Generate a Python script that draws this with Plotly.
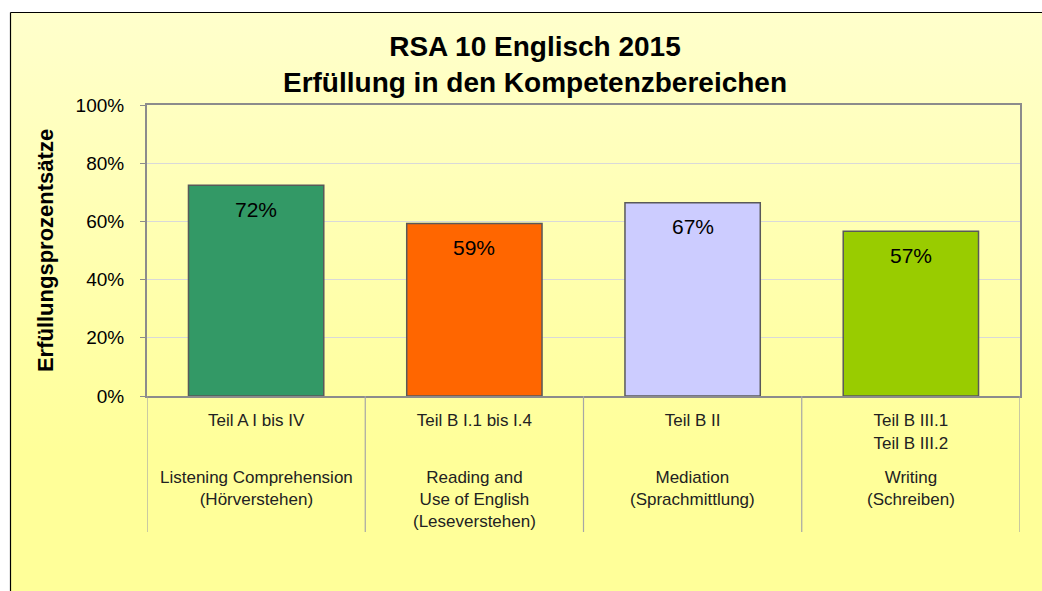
import plotly.graph_objects as go

parts = [
    "Teil A I bis IV",
    "Teil B I.1 bis I.4",
    "Teil B II",
    "Teil B III.1<br>Teil B III.2",
]
skills = [
    "Listening Comprehension<br>(Hörverstehen)",
    "Reading and<br>Use of English<br>(Leseverstehen)",
    "Mediation<br>(Sprachmittlung)",
    "Writing<br>(Schreiben)",
]
values = [72.4, 59.3, 66.4, 56.6]
labels = ["72%", "59%", "67%", "57%"]
colors = ["#339966", "#FF6600", "#CCCCFF", "#99CC00"]
yticks = [0, 20, 40, 60, 80, 100]
ytick_labels = ["0%", "20%", "40%", "60%", "80%", "100%"]

x_idx = list(range(len(parts)))
FONT = "Liberation Sans, Arial, sans-serif"

fig = go.Figure()
fig.add_trace(go.Bar(
    x=x_idx, y=values, width=0.62,
    marker=dict(color=colors, line=dict(color="#595959", width=1.5)),
    hoverinfo="skip",
))

# plot-area geometry in px (for paper-coordinate conversions)
L, R, T, B = 147, 22, 105, 195
W, H = 1042 - L - R, 591 - T - B
def px_x(p): return (p - L) / W
def px_y(p): return (591 - B - p) / H

svg = ("data:image/svg+xml;utf8,<svg xmlns='http://www.w3.org/2000/svg' width='100' height='100' "
       "preserveAspectRatio='none'><defs><linearGradient id='g' x1='0' y1='0' x2='0' y2='1'>"
       "<stop offset='0' stop-color='%23FFFFCC'/><stop offset='0.75' stop-color='%23FFFF99'/>"
       "<stop offset='1' stop-color='%23FFFF99'/></linearGradient></defs>"
       "<rect width='100' height='100' fill='url(%23g)'/></svg>")
fig.add_layout_image(dict(
    source=svg, xref="paper", yref="paper",
    x=px_x(10), y=px_y(12), sizex=px_x(1060) - px_x(10), sizey=px_y(12) - px_y(600),
    xanchor="left", yanchor="top", sizing="stretch", layer="below",
))

shapes = []
# outer chart border (left and top visible)
shapes.append(dict(type="line", xref="paper", yref="paper",
                   x0=px_x(10.5), x1=px_x(1060), y0=px_y(12.5), y1=px_y(12.5),
                   line=dict(color="#000000", width=1.2)))
shapes.append(dict(type="line", xref="paper", yref="paper",
                   x0=px_x(10.5), x1=px_x(10.5), y0=px_y(12.5), y1=px_y(600),
                   line=dict(color="#000000", width=1.2)))
# category divider lines below the axis
for b in [-0.5, 0.5, 1.5, 2.5, 3.5]:
    shapes.append(dict(type="line", xref="x", yref="paper",
                       x0=b, x1=b, y0=0, y1=px_y(532),
                       line=dict(color="#A6A6A6", width=1.2)))
fig.update_layout(shapes=shapes)

annotations = []
for i in x_idx:
    annotations.append(dict(
        x=i, y=values[i], xref="x", yref="y", text=labels[i], showarrow=False,
        yanchor="middle", yshift=-24,
        font=dict(family=FONT, size=21, color="#000000"),
    ))
    annotations.append(dict(
        x=i, y=px_y(466), xref="x", yref="paper", text=skills[i], showarrow=False,
        yanchor="top", xanchor="center",
        font=dict(family=FONT, size=17, color="#222222"),
    ))
fig.update_layout(annotations=annotations)

fig.update_layout(
    width=1042, height=591,
    margin=dict(l=L, r=R, t=T, b=B),
    paper_bgcolor="#FFFFFF",
    plot_bgcolor="rgba(0,0,0,0)",
    showlegend=False,
    font=dict(family=FONT, color="#000000"),
    title=dict(
        text="<b>RSA 10 Englisch 2015<br>Erfüllung in den Kompetenzbereichen</b>",
        x=535 / 1042, xref="container", xanchor="center",
        y=1 - 56 / 591, yanchor="middle",
        font=dict(size=28, family=FONT, color="#000000"),
    ),
)
fig.update_xaxes(
    range=[-0.5, 3.5], tickvals=x_idx, ticktext=parts,
    tickfont=dict(size=17, family=FONT, color="#222222"),
    showgrid=False, ticks="", showline=True, linecolor="#8C8C8C", linewidth=2,
    mirror=True, zeroline=False, ticklabelstandoff=8,
)
fig.update_yaxes(
    range=[0, 100], tickvals=yticks, ticktext=ytick_labels,
    tickfont=dict(size=19, family=FONT, color="#000000"),
    showgrid=True, gridcolor="#D9D9D9", gridwidth=1.2,
    ticks="outside", ticklen=5, tickcolor="#8C8C8C", ticklabelstandoff=12,
    showline=True, linecolor="#8C8C8C", linewidth=2, mirror=True, zeroline=False,
    title=dict(text="<b>Erfüllungsprozentsätze</b>", standoff=16,
               font=dict(size=22, family=FONT, color="#000000")),
)

fig.write_html("out.html", config={"displayModeBar": False},
               post_script="document.body.style.margin='0';")
